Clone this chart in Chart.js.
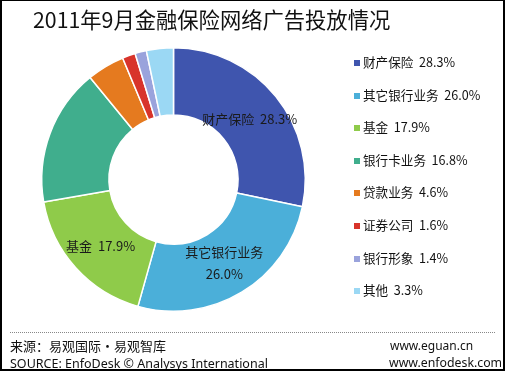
<!DOCTYPE html>
<html>
<head>
<meta charset="utf-8">
<script src="https://cdn.jsdelivr.net/npm/chart.js@4.4.0/dist/chart.umd.min.js"></script>
<style>
    html, body { margin: 0; padding: 0; background: #fff; }
    #wrap {
        position: relative; width: 505px; height: 371px; box-sizing: border-box;
        border: 2px solid #000; border-top-width: 1px; overflow: hidden;
        font-family: "Noto Sans CJK SC", "Noto Sans", sans-serif; color: #111;
    }
    #chart { position: absolute; left: -2px; top: -1px; }
    .title { position: absolute; left: 31px; top: 2px; font-size: 21.3px; white-space: nowrap; }
    #legend { position: absolute; left: 352px; top: 52px; font-size: 12.6px; }
    #legend div { height: 32.6px; line-height: 18px; white-space: nowrap; }
    #legend span.box { display: inline-block; width: 6px; height: 6px; margin-right: 3px; vertical-align: 1px; }
    .rule { position: absolute; left: 8px; right: 8px; top: 331px; border-top: 1px dotted #888; }
    .foot { position: absolute; font-size: 13px; white-space: nowrap; line-height: 16px; }
</style>
</head>
<body>
<div id="wrap">
    <canvas id="chart" width="505" height="371"></canvas>
    <div class="title">2011年9月金融保险网络广告投放情况</div>
    <div id="legend"></div>
    <div class="rule"></div>
    <div class="foot" style="left:8px; top:337px;">来源：易观国际·易观智库</div>
    <div class="foot" style="left:8px; top:355px; font-family:'Noto Sans'; font-size:12.5px;">SOURCE: EnfoDesk © Analysys International</div>
    <div class="foot" style="left:388px; top:337px; font-family:'Noto Sans'; font-size:12px;">www.eguan.cn</div>
    <div class="foot" style="left:387px; top:354px; font-family:'Noto Sans'; font-size:12.3px;">www.enfodesk.com</div>
</div>
<script>
var categories = ['财产保险', '其它银行业务', '基金', '银行卡业务', '贷款业务', '证券公司', '银行形象', '其他'];
var shares = [28.3, 26.0, 17.9, 16.8, 4.6, 1.6, 1.4, 3.3];
var colors = ['#3F55AE', '#4BAFD9', '#8FCB4A', '#40AE8D', '#E57A1F', '#D8342B', '#9AA3DC', '#9BD8F4'];

// legend, built from the arrays
var legend = document.getElementById('legend');
categories.forEach(function (name, i) {
    var row = document.createElement('div');
    row.innerHTML = '<span class="box" style="background:' + colors[i] + '"></span>' +
        name + '&nbsp; ' + shares[i].toFixed(1) + '%';
    legend.appendChild(row);
});

// text on the three big slices
var sliceLabels = {
    id: 'sliceLabels',
    afterDatasetsDraw: function (chart) {
        var ctx = chart.ctx;
        var meta = chart.getDatasetMeta(0);
        ctx.save();
        ctx.font = '13px "Noto Sans CJK SC"';
        ctx.fillStyle = '#1a1a1a';
        ctx.textAlign = 'center';
        ctx.textBaseline = 'middle';
        meta.data.forEach(function (arc, i) {
            if (shares[i] < 17) return;
            var p = arc.tooltipPosition();
            var txt = shares[i].toFixed(1) + '%';
            if (i === 1) {
                ctx.fillText(categories[i], p.x, p.y - 11);
                ctx.fillText(txt, p.x, p.y + 11);
            } else {
                ctx.fillText(categories[i] + '  ' + txt, p.x, p.y + 1);
            }
        });
        ctx.restore();
    }
};

new Chart(document.getElementById('chart'), {
    type: 'doughnut',
    data: {
        labels: categories,
        datasets: [{
            data: shares,
            backgroundColor: colors,
            borderColor: '#fff',
            borderWidth: 1.5
        }]
    },
    options: {
        responsive: false,
        animation: false,
        cutout: '49%',
        layout: { padding: { left: 40, right: 198, top: 47, bottom: 59 } },
        plugins: {
            legend: { display: false },
            tooltip: { enabled: false }
        }
    },
    plugins: [sliceLabels]
});
</script>
</body>
</html>
